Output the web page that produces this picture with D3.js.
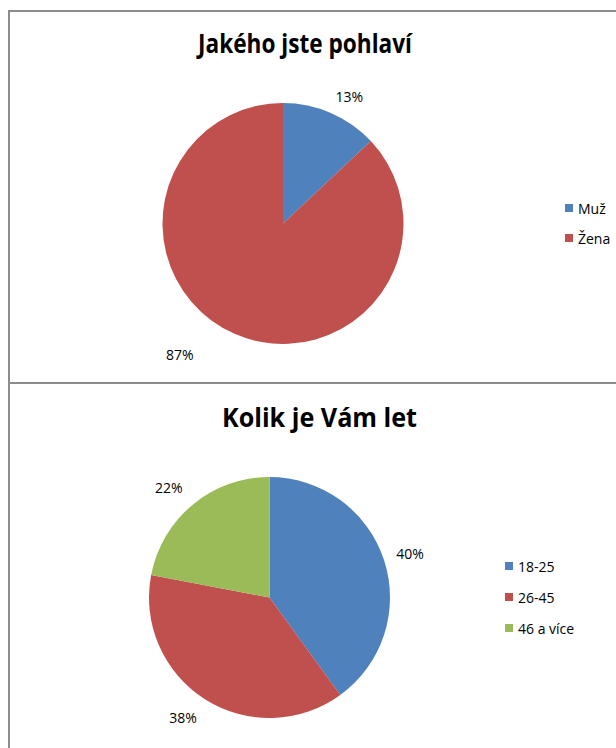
<!DOCTYPE html>
<html>
<head>
<meta charset="utf-8">
<script src="https://cdn.jsdelivr.net/npm/d3@7"></script>
<style>
  html, body { margin: 0; padding: 0; background: #fff; }
  svg { display: block; }
</style>
</head>
<body>
<svg id="chart" width="616" height="748"></svg>
<script>
// data
const genderLabels = ["Muž", "Žena"];
const genderValues = [13, 87];
const ageLabels = ["18-25", "26-45", "46 a více"];
const ageValues = [40, 38, 22];
const colors = ["#4F81BD", "#C0504D", "#9BBB59"];

const svg = d3.select("#chart");
const font = "'Open Sans', 'Noto Sans', sans-serif";

// panel frames
svg.append("path")
  .attr("fill", "none")
  .attr("stroke", "#8c8c8c")
  .attr("stroke-width", 2)
  .attr("d", "M9,760V11H630M9,383H630");

function drawPie(cfg) {
  const g = svg.append("g");

  g.append("text")
    .attr("x", cfg.titleX)
    .attr("y", cfg.titleY)
    .attr("text-anchor", "middle")
    .attr("font-family", font)
    .attr("font-weight", 700)
    .attr("font-size", 27)
    .attr("textLength", cfg.titleW)
    .attr("lengthAdjust", "spacingAndGlyphs")
    .attr("fill", "#000")
    .text(cfg.title);

  const pie = d3.pie().sort(null).value(d => d);
  const arcs = pie(cfg.values);
  const arc = d3.arc().innerRadius(0).outerRadius(cfg.r);

  const pg = g.append("g").attr("transform", `translate(${cfg.cx},${cfg.cy})`);
  pg.selectAll("path")
    .data(arcs)
    .join("path")
    .attr("fill", (d, i) => colors[i])
    .attr("d", arc);

  // outside-end labels: box corner sits just outside the rim at mid angle
  const lw = 29, lh = 14, gap = 10;
  const nudge = cfg.nudge || [];
  pg.selectAll("text")
    .data(arcs)
    .join("text")
    .attr("font-family", font)
    .attr("font-size", 14)
    .attr("fill", "#000")
    .attr("text-anchor", "middle")
    .attr("dominant-baseline", "central")
    .attr("x", (d, i) => {
      const a = (d.startAngle + d.endAngle) / 2;
      const s = Math.sin(a);
      return (cfg.r + gap) * s + Math.sign(s) * lw / 2 + (nudge[i] ? nudge[i][0] : 0);
    })
    .attr("y", (d, i) => {
      const a = (d.startAngle + d.endAngle) / 2;
      const c = Math.cos(a);
      return -(cfg.r + gap) * c - Math.sign(c) * lh / 2 + (nudge[i] ? nudge[i][1] : 0);
    })
    .text(d => d.data + "%");

  // legend
  const lg = g.append("g").attr("transform", `translate(${cfg.legX},${cfg.legY})`);
  const item = lg.selectAll("g")
    .data(cfg.labels)
    .join("g")
    .attr("transform", (d, i) => `translate(0,${i * cfg.legStep})`);
  item.append("rect")
    .attr("x", 0).attr("y", -4)
    .attr("width", 8).attr("height", 8)
    .attr("fill", (d, i) => colors[i]);
  item.append("text")
    .attr("x", 13)
    .attr("y", 0)
    .attr("dominant-baseline", "central")
    .attr("font-family", font)
    .attr("font-size", 14)
    .attr("fill", "#000")
    .text(d => d);
}

drawPie({
  title: "Jakého jste pohlaví", titleX: 305, titleY: 53, titleW: 214,
  values: genderValues, labels: genderLabels,
  cx: 283, cy: 223.5, r: 120.5,
  nudge: [[0, 0], [-37, 4]],
  legX: 565, legY: 208, legStep: 30
});

drawPie({
  title: "Kolik je Vám let", titleX: 319.5, titleY: 427, titleW: 195,
  values: ageValues, labels: ageLabels,
  cx: 269.5, cy: 597.5, r: 120.5,
  nudge: [[2, 3], [-2, 3], [-3, -2]],
  legX: 505, legY: 566, legStep: 31
});
</script>
</body>
</html>
